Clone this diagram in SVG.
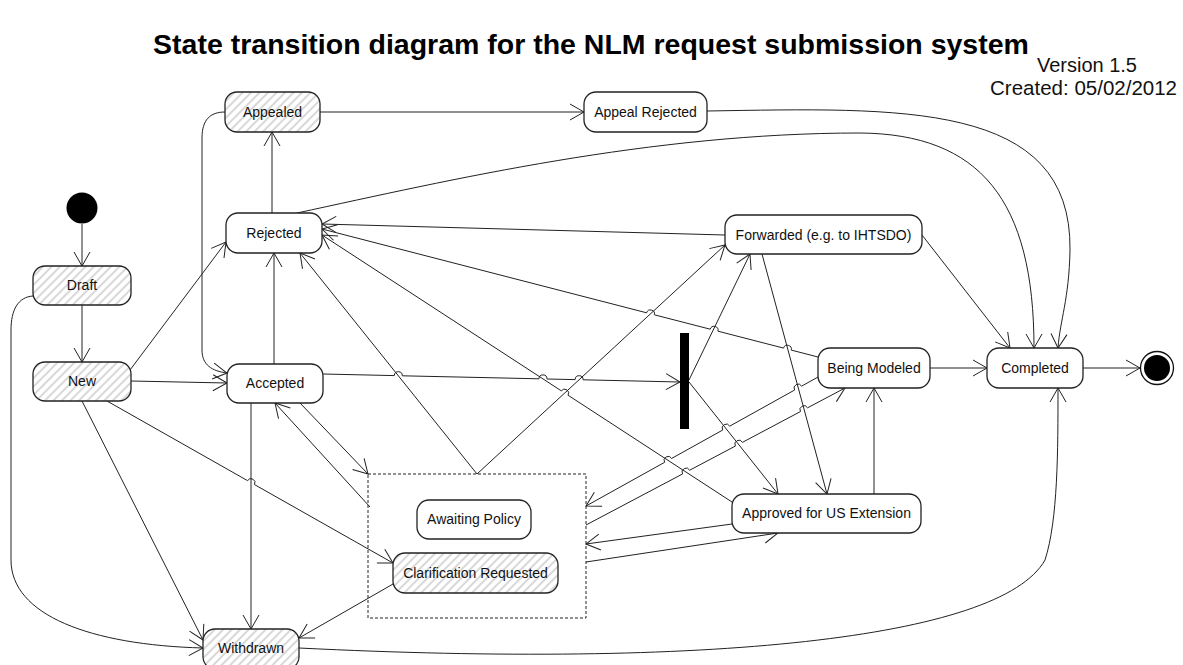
<svg xmlns="http://www.w3.org/2000/svg" width="1183" height="665" viewBox="0 0 1183 665">
<defs>
<pattern id="hatch" width="6" height="6" patternUnits="userSpaceOnUse" patternTransform="rotate(45)">
<rect width="6" height="6" fill="#fff"/>
<line x1="3" y1="0" x2="3" y2="6" stroke="#b8b8b8" stroke-width="1.1"/>
</pattern>
<marker id="arr" viewBox="-1 -1 16 18" refX="14" refY="8" markerWidth="16" markerHeight="18" markerUnits="userSpaceOnUse" orient="auto">
<path d="M0,0 L14,8 L0,16" fill="none" stroke="#222" stroke-width="1"/>
</marker>
<style>
.st{fill:#fff;stroke:#222;stroke-width:1.3}
.hs{fill:url(#hatch);stroke:#222;stroke-width:1.3}
.lb{font-family:"Liberation Sans",Arial,sans-serif;font-size:14px;fill:#111;text-anchor:middle}
.cn path{fill:none;stroke:#222;stroke-width:1;marker-end:url(#arr)}
</style>
</defs>
<rect width="1183" height="665" fill="#fff"/>
<text x="591" y="54" font-family="'Liberation Sans',Arial,sans-serif" font-size="28.5" font-weight="bold" text-anchor="middle" fill="#000">State transition diagram for the NLM request submission system</text>
<text x="1137" y="72" font-family="'Liberation Sans',Arial,sans-serif" font-size="20" text-anchor="end" fill="#111">Version 1.5</text>
<text x="1177" y="95" font-family="'Liberation Sans',Arial,sans-serif" font-size="20.5" text-anchor="end" fill="#111">Created: 05/02/2012</text>

<g id="connectors" class="cn">
<path d="M82,224 L82,266"/>
<path d="M82,305 L82,362"/>
<path d="M33,296 C18,297 11,310 11,330 L11,560 C11,615 90,645 203,648"/>
<path d="M130,370 L226,242"/>
<path d="M131,381 L227,383"/>
<path d="M82,401 L203,640"/>
<path d="M107,401 L247.52,480.63 A4,4 0 0 1 254.48,484.57 L393,563"/>
<path d="M274,364 L274,253"/>
<path d="M251,403 L251,629"/>
<path d="M300,403 L368,474"/>
<path d="M370,507 L275,403"/>
<path d="M323,374 L394.3,375.6 A4,4 0 0 1 402.3,375.8 L539,378.8 A4,4 0 0 1 547,379 L575.1,379.6 A4,4 0 0 1 583.1,379.8 L680,382"/>
<path d="M272,213 L272,132"/>
<path d="M320,112 L584,112"/>
<path d="M225,112 C210,112 202,120 202,138 L202,350 C202,365 212,371 227,373"/>
<path d="M707,111 C900,108 1072,100 1070,250 C1069,300 1060,320 1058,348"/>
<path d="M297,213 C450,180 650,133 860,133 C980,134 1034,200 1034,348"/>
<path d="M725,235 L322,224"/>
<path d="M922,235 L1010,348"/>
<path d="M762,254 L827,494"/>
<path d="M689,380 L750,254"/>
<path d="M689,382 L778,494"/>
<path d="M477,474 L725,245"/>
<path d="M477,474 L300,253"/>
<path d="M818,357 L791.27,350.1 A4,4 0 0 0 783.53,348.1 L717.97,331.2 A4,4 0 0 0 710.23,329.2 L654.37,314.8 A4,4 0 0 0 646.63,312.8 L322,229"/>
<path d="M930,368 L987,368"/>
<path d="M1083,368 L1140,368"/>
<path d="M732,502 L568.05,395.23 A4,4 0 0 0 561.35,390.87 L322,235"/>
<path d="M874,494 L874,388"/>
<path d="M586,525 L682.56,473.97 A4,4 0 0 1 689.64,470.23 L735.36,446.07 A4,4 0 0 1 742.44,442.33 L800.46,411.57 A4,4 0 0 1 807.54,407.83 L845,388"/>
<path d="M818,377 L801.6,386.16 A4,4 0 0 0 794.6,390.04 L729.7,426.16 A4,4 0 0 0 722.7,430.04 L671.6,458.46 A4,4 0 0 0 664.6,462.34 L586,506"/>
<path d="M732,524 L586,544"/>
<path d="M586,562 L778,533"/>
<path d="M393,584 L299,638"/>
<path d="M299,648 C700,668 1000,640 1045,560 C1058,520 1058,450 1058,388"/>
</g>

<g id="initial"><circle cx="82" cy="208" r="15.5" fill="#000"/></g>
<g id="draft"><rect class="hs" x="33" y="266" width="98" height="39" rx="12"/><text class="lb" x="82" y="290">Draft</text></g>
<g id="new"><rect class="hs" x="33" y="362" width="98" height="39" rx="12"/><text class="lb" x="82" y="386">New</text></g>
<g id="appealed"><rect class="hs" x="225" y="92" width="95" height="40" rx="12"/><text class="lb" x="272.5" y="117">Appealed</text></g>
<g id="appeal-rejected"><rect class="st" x="584" y="92" width="123" height="40" rx="12"/><text class="lb" x="645.5" y="117">Appeal Rejected</text></g>
<g id="rejected"><rect class="st" x="226" y="213" width="96" height="40" rx="12"/><text class="lb" x="274" y="238">Rejected</text></g>
<g id="accepted"><rect class="st" x="227" y="364" width="96" height="39" rx="12"/><text class="lb" x="275" y="388">Accepted</text></g>
<g id="forwarded"><rect class="st" x="725" y="215" width="197" height="39" rx="12"/><text class="lb" x="823.5" y="239.5">Forwarded (e.g. to IHTSDO)</text></g>
<g id="fork"><rect x="680" y="333" width="9" height="96" fill="#000"/></g>
<g id="being-modeled"><rect class="st" x="818" y="348" width="112" height="40" rx="12"/><text class="lb" x="874" y="373">Being Modeled</text></g>
<g id="completed"><rect class="st" x="987" y="348" width="96" height="40" rx="12"/><text class="lb" x="1035" y="373">Completed</text></g>
<g id="final"><circle cx="1157" cy="368" r="16.5" fill="#fff" stroke="#111" stroke-width="1.3"/><circle cx="1157" cy="368" r="13" fill="#000"/></g>
<g id="composite"><rect x="368" y="474" width="218" height="144" fill="none" stroke="#222" stroke-width="1" stroke-dasharray="3,2"/></g>
<g id="awaiting-policy"><rect class="st" x="417" y="500" width="114" height="39" rx="12"/><text class="lb" x="474" y="524">Awaiting Policy</text></g>
<g id="clarification-requested"><rect class="hs" x="393" y="553" width="165" height="40" rx="12"/><text class="lb" x="475.5" y="578">Clarification Requested</text></g>
<g id="approved-us"><rect class="st" x="732" y="494" width="189" height="39" rx="12"/><text class="lb" x="826.5" y="518">Approved for US Extension</text></g>
<g id="withdrawn"><rect class="hs" x="203" y="629" width="96" height="40" rx="12"/><text class="lb" x="251" y="653">Withdrawn</text></g>
</svg>
